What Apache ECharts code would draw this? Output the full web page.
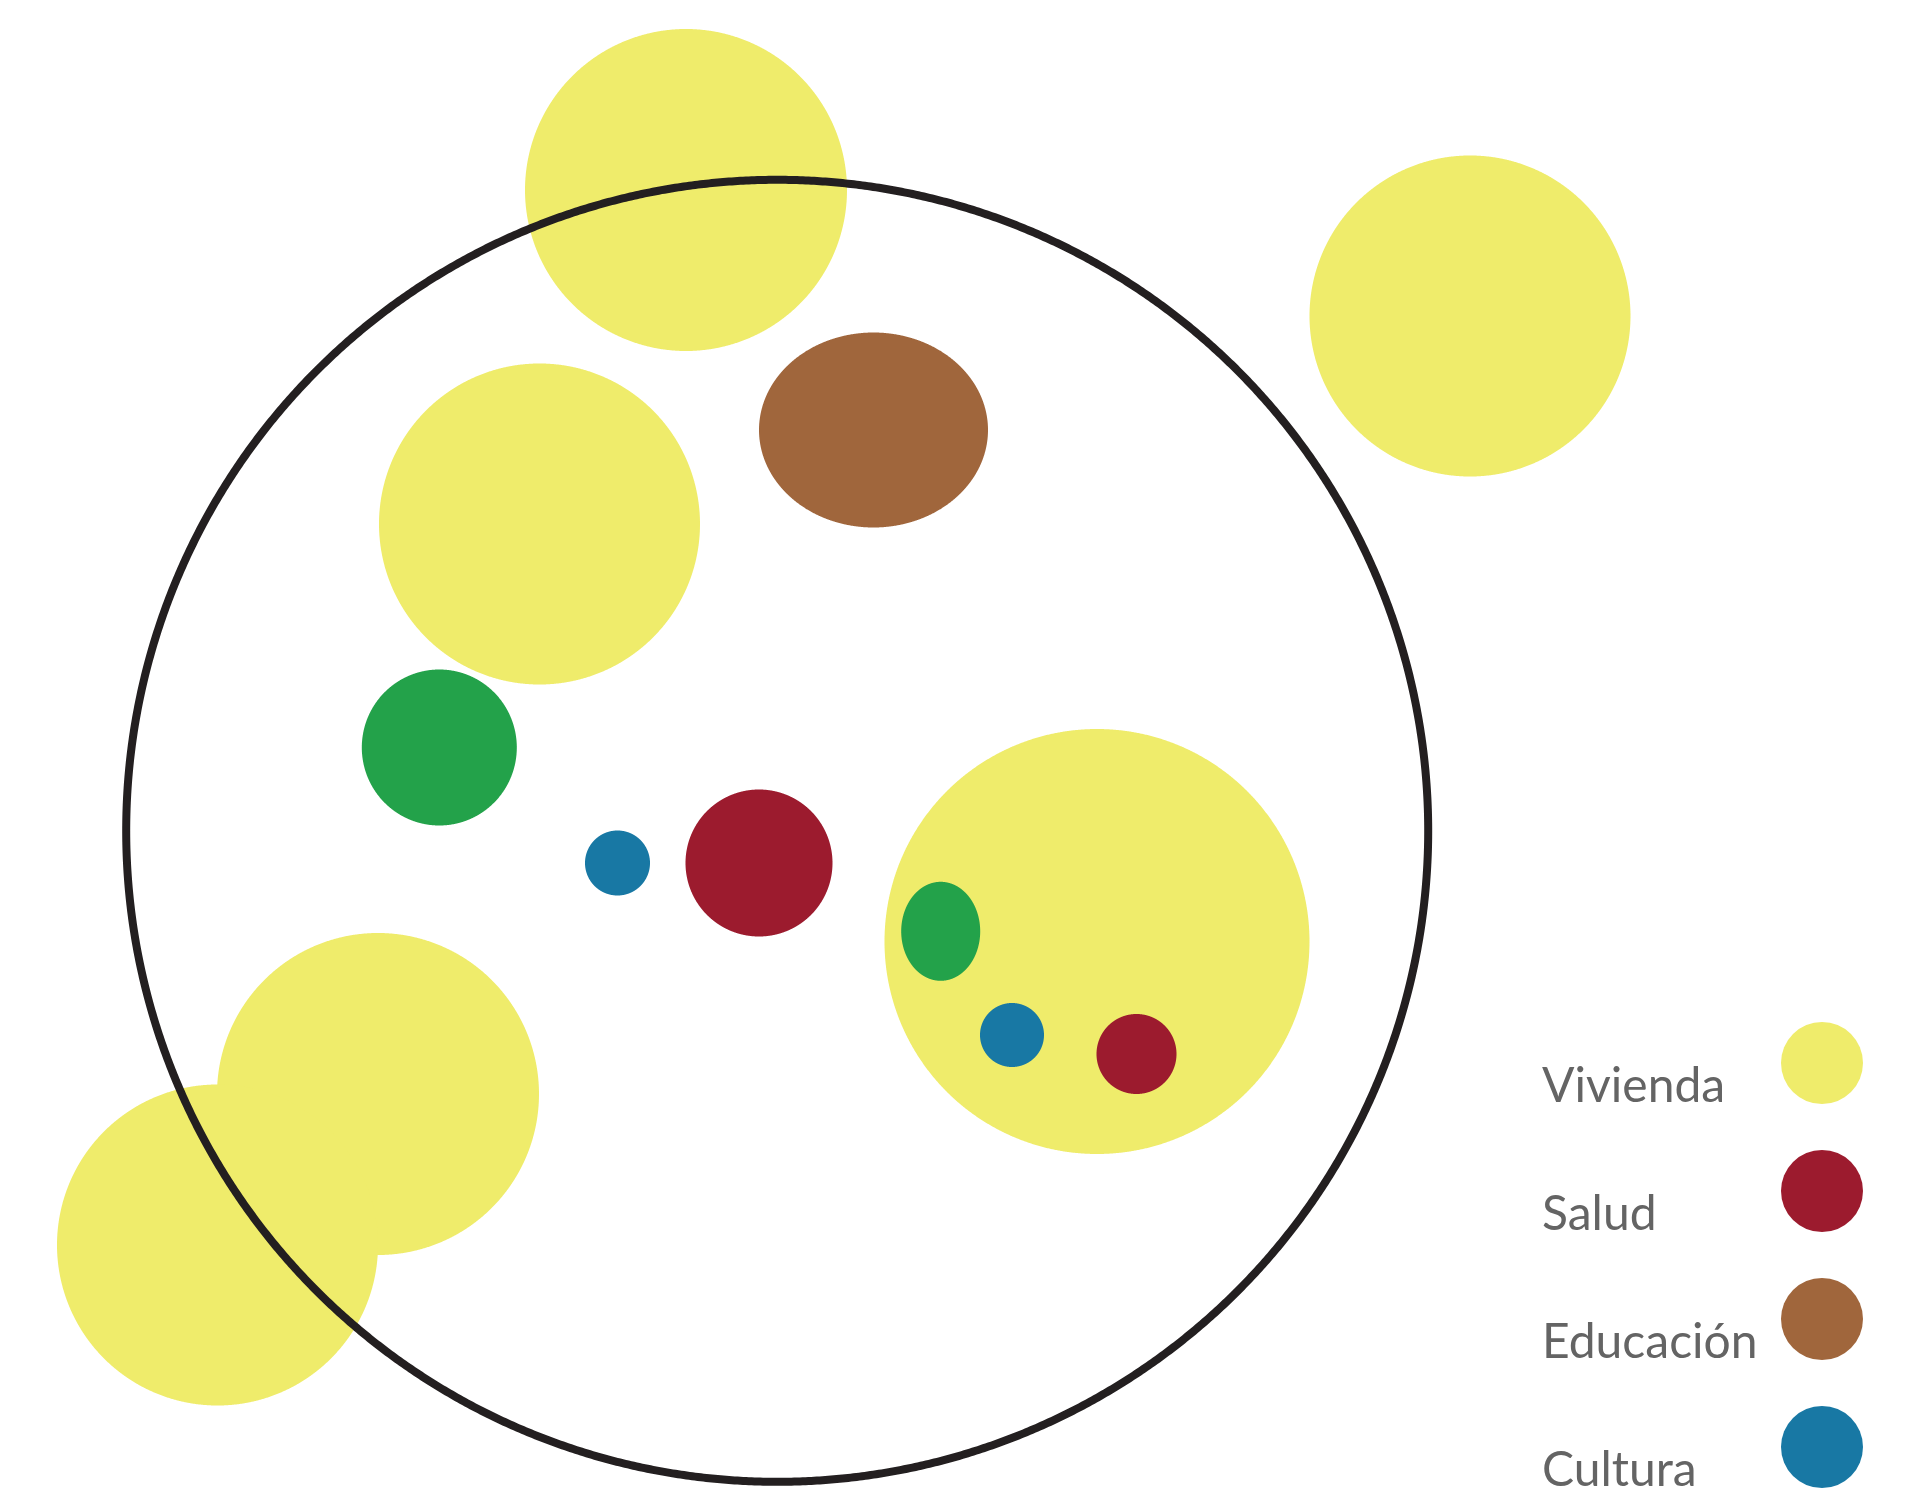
<!DOCTYPE html>
<html>
<head>
<meta charset="utf-8">
<script src="https://cdn.jsdelivr.net/npm/echarts@6/dist/echarts.min.js"></script>
<style>
  html, body { margin: 0; padding: 0; background: #ffffff; }
  #chart { width: 1911px; height: 1489px; }
</style>
</head>
<body>
<div id="chart"></div>
<script>
// Category names (legend)
const legendNames = ['Vivienda', 'Salud', 'Educación', 'Cultura'];

// Vivienda bubbles: centre x, centre y, width, height
const viviendaX = [686, 1470, 539.5, 1097, 378, 217.5];
const viviendaY = [190, 316, 524, 941.5, 1094, 1245];
const viviendaW = [322, 321, 321, 425, 322, 321];
const viviendaH = [322, 321, 321, 425, 322, 321];

// Salud bubbles
const saludX = [759, 1136.5];
const saludY = [863, 1054];
const saludW = [147, 80];
const saludH = [147, 80];

// Educación bubbles
const educacionX = [873.5];
const educacionY = [430];
const educacionW = [229];
const educacionH = [195];

// Cultura bubbles
const culturaX = [617.5, 1012];
const culturaY = [863, 1035];
const culturaW = [65, 64];
const culturaH = [65, 64];

// Green bubbles (no legend entry)
const verdeX = [439.3, 940.7];
const verdeY = [747.5, 931.3];
const verdeW = [155, 79];
const verdeH = [156, 99];

// Enclosing outline circle
const outlineX = [777.2];
const outlineY = [830.8];
const outlineD = [1302];

const colors = {
  Vivienda: '#efec6b',
  Salud: '#9c1b2e',
  'Educación': '#a0663c',
  Cultura: '#1878a4',
  Verde: '#23a24a'
};

function rows(xs, ys, ws, hs) {
  return xs.map((x, i) => [x, ys[i], ws[i], hs[i]]);
}

// dense outline of an ellipse in pixel space
function ellipsePoints(cx, cy, rx, ry) {
  const n = 1440;
  const pts = [];
  for (let k = 0; k < n; k++) {
    const t = (k / n) * Math.PI * 2;
    pts.push([cx + rx * Math.cos(t), cy + ry * Math.sin(t)]);
  }
  return pts;
}

function ellipseItem(params, api) {
  const c = api.coord([api.value(0), api.value(1)]);
  const s = api.size([api.value(2), api.value(3)]);
  return {
    type: 'polygon',
    shape: { points: ellipsePoints(c[0], c[1], s[0] / 2, s[1] / 2) },
    style: { fill: api.visual('color') }
  };
}

function bubbleSeries(name, data, color) {
  return {
    name: name,
    type: 'custom',
    renderItem: ellipseItem,
    data: data,
    encode: { x: 0, y: 1 },
    itemStyle: { color: color },
    emphasis: { disabled: true },
    silent: true,
    clip: false
  };
}

const chart = echarts.init(document.getElementById('chart'), null, { renderer: 'canvas' });

chart.setOption({
  animation: false,
  backgroundColor: '#ffffff',
  grid: { left: 0, right: 0, top: 0, bottom: 0 },
  xAxis: { type: 'value', min: 0, max: 1911, show: false },
  yAxis: { type: 'value', min: 0, max: 1489, inverse: true, show: false },
  tooltip: { show: false },
  legend: {
    data: legendNames,
    orient: 'vertical',
    left: 1542,
    top: 1019,
    height: 700,
    align: 'right',
    padding: 0,
    itemGap: 36,
    itemWidth: 82,
    itemHeight: 82,
    icon: 'circle',
    selectedMode: false,
    formatter: function (name) { return '{n|' + name + '}'; },
    textStyle: {
      padding: [48, 0, 0, 0],
      lineHeight: 40,
      fontSize: 48,
      fontFamily: 'Lato',
      color: '#646464',
      rich: {
        n: {
          width: 234,
          align: 'left',
          lineHeight: 40,
          fontSize: 48,
          fontFamily: 'Lato',
          color: '#646464'
        }
      }
    }
  },
  series: [
    bubbleSeries('Vivienda', rows(viviendaX, viviendaY, viviendaW, viviendaH), colors.Vivienda),
    bubbleSeries('Salud', rows(saludX, saludY, saludW, saludH), colors.Salud),
    bubbleSeries('Educación', rows(educacionX, educacionY, educacionW, educacionH), colors['Educación']),
    bubbleSeries('Cultura', rows(culturaX, culturaY, culturaW, culturaH), colors.Cultura),
    bubbleSeries('Verde', rows(verdeX, verdeY, verdeW, verdeH), colors.Verde),
    {
      name: 'Contorno',
      type: 'custom',
      data: outlineX.map((x, i) => [x, outlineY[i], outlineD[i]]),
      encode: { x: 0, y: 1 },
      renderItem: function (params, api) {
        const c = api.coord([api.value(0), api.value(1)]);
        const s = api.size([api.value(2), api.value(2)]);
        return {
          type: 'polygon',
          shape: { points: ellipsePoints(c[0], c[1], s[0] / 2, s[1] / 2) },
          style: { fill: 'none', stroke: '#231f20', lineWidth: 8, lineJoin: 'round' }
        };
      },
      emphasis: { disabled: true },
      silent: true,
      clip: false
    }
  ]
});
</script>
</body>
</html>
